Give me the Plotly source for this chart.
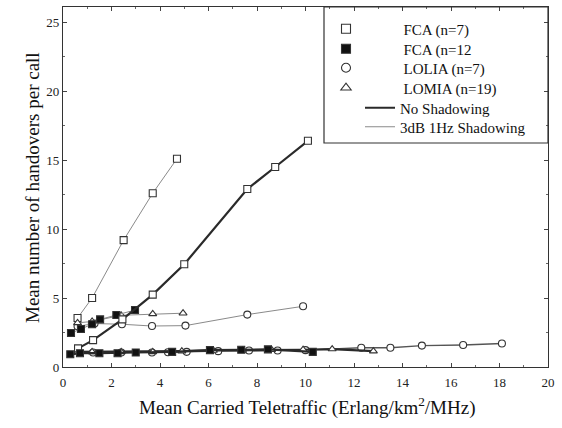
import plotly.graph_objects as go

# ---------------- data ----------------
# FCA (n=7), no shadowing (open squares, thick line)
fca7_ns_x = [0.62, 1.24, 2.45, 3.7, 5.0, 7.6, 8.75, 10.1]
fca7_ns_y = [1.35, 1.95, 3.45, 5.25, 7.45, 12.9, 14.5, 16.4]
# FCA (n=7), 3dB 1Hz shadowing (open squares, thin line)
fca7_sh_x = [0.6, 1.2, 2.5, 3.7, 4.7]
fca7_sh_y = [3.55, 5.0, 9.2, 12.6, 15.1]
# FCA (n=12), no shadowing (filled squares, thick line)
fca12_ns_x = [0.3, 0.7, 1.5, 2.25, 3.0, 4.5, 6.06, 7.35, 8.45, 10.3]
fca12_ns_y = [0.92, 1.0, 1.0, 1.0, 1.05, 1.1, 1.22, 1.25, 1.28, 1.1]
# FCA (n=12), shadowing (filled squares, thin line)
fca12_sh_x = [0.33, 0.74, 1.2, 1.53, 2.2, 2.97]
fca12_sh_y = [2.46, 2.75, 3.1, 3.45, 3.77, 4.13]
# LOLIA (n=7), no shadowing (open circles)
lolia_ns_x = [1.24, 2.4, 3.67, 4.33, 5.1, 6.4, 7.67, 8.85, 10.0, 12.3, 13.5, 14.8, 16.5, 18.1]
lolia_ns_y = [1.05, 1.05, 1.05, 1.07, 1.1, 1.15, 1.2, 1.2, 1.22, 1.4, 1.4, 1.55, 1.6, 1.7]
# LOLIA (n=7), shadowing (open circles)
lolia_sh_x = [0.6, 1.3, 2.43, 3.67, 5.05, 7.6, 9.9]
lolia_sh_y = [2.95, 3.15, 3.1, 2.97, 3.0, 3.8, 4.4]
# LOMIA (n=19), no shadowing (open triangles)
lomia_ns_x = [0.6, 1.2, 2.4, 3.7, 4.9, 6.2, 7.4, 8.6, 9.9, 11.1, 12.8]
lomia_ns_y = [1.1, 1.1, 1.1, 1.1, 1.15, 1.2, 1.2, 1.25, 1.25, 1.3, 1.15]
# LOMIA (n=19), shadowing (open triangles)
lomia_sh_x = [0.6, 1.2, 2.4, 3.7, 4.95]
lomia_sh_y = [3.2, 3.3, 3.75, 3.85, 3.9]

marker_labels = ["FCA (n=7)", "FCA (n=12", "LOLIA (n=7)", "LOMIA (n=19)"]
line_labels = ["No Shadowing", "3dB 1Hz Shadowing"]
x_title = "Mean Carried Teletraffic (Erlang/km<sup>2</sup>/MHz)"
y_title = "Mean number of handovers per call"

# ---------------- style ----------------
FONT = "Liberation Serif, Times New Roman, serif"
THICK = dict(color="#2a2a2a", width=2.2)
THIN = dict(color="#8a8a8a", width=1)
MK = dict(size=7, line=dict(color="#333333", width=1.1))

# plot area in pixels (for placing legend rows / titles)
PL, PR, PT, PB = 63, 548, 7, 367

def px_x(p):
    return (p - PL) / (PR - PL)

def px_y(p):
    return (PB - p) / (PB - PT)

def mk(symbol, fill="white", size=7):
    d = dict(MK)
    d["symbol"] = symbol
    d["color"] = fill
    d["size"] = size
    return d

fig = go.Figure()

series = [
    (fca7_sh_x, fca7_sh_y, THIN, mk("square")),
    (lolia_sh_x, lolia_sh_y, THIN, mk("circle")),
    (lomia_sh_x, lomia_sh_y, THIN, mk("triangle-up")),
    (fca12_sh_x, fca12_sh_y, THIN, mk("square", "#111111")),
    (lolia_ns_x, lolia_ns_y, dict(color="#555555", width=1.4), mk("circle")),
    (lomia_ns_x, lomia_ns_y, THICK, mk("triangle-up")),
    (fca7_ns_x, fca7_ns_y, THICK, mk("square")),
    (fca12_ns_x, fca12_ns_y, THICK, mk("square", "#111111")),
]
for xs, ys, ln, m in series:
    fig.add_trace(go.Scatter(x=xs, y=ys, mode="lines+markers", line=ln,
                             marker=m, showlegend=False, hoverinfo="skip"))

leg_font = dict(family=FONT, size=15, color="#111111")
legend_layout = {}
row_y = [29, 49, 68, 88, 108, 127]
pad = "\u00a0" * 10
legend_markers = [mk("square", size=9), mk("square", "#111111", size=9),
                  mk("circle", size=9), mk("triangle-up", size=9)]
k = 0
for lab, m in zip(marker_labels, legend_markers):
    name = "legend" if k == 0 else "legend%d" % (k + 1)
    fig.add_trace(go.Scatter(x=[None], y=[None], mode="markers", marker=m,
                             name=pad + lab, legend=name))
    legend_layout[name] = dict(x=px_x(326), y=px_y(row_y[k]), xanchor="left", yanchor="middle",
                               bgcolor="rgba(0,0,0,0)", borderwidth=0, font=leg_font)
    k += 1
for lab, ln in zip(line_labels, [THICK, THIN]):
    name = "legend%d" % (k + 1)
    fig.add_trace(go.Scatter(x=[None], y=[None], mode="lines", line=ln,
                             name=lab, legend=name))
    legend_layout[name] = dict(x=px_x(360), y=px_y(row_y[k]), xanchor="left", yanchor="middle",
                               bgcolor="rgba(0,0,0,0)", borderwidth=0, font=leg_font)
    k += 1

axis_common = dict(showline=True, linecolor="#333333", linewidth=1.2, mirror="ticks",
                   ticks="inside", ticklen=4, tickcolor="#444444", showgrid=False,
                   zeroline=False, automargin=False,
                   tickfont=dict(family=FONT, size=13, color="#222222"))

fig.update_xaxes(range=[0, 20], dtick=2, tick0=0, ticklabelstandoff=3,
                 minor=dict(dtick=1, ticks="inside", ticklen=2, tickcolor="#666666"),
                 **axis_common)
fig.update_yaxes(range=[0, 26.1], dtick=5, tick0=0,
                 minor=dict(dtick=2.5, ticks="inside", ticklen=2, tickcolor="#666666"),
                 **axis_common)

title_font = dict(family=FONT, size=19, color="#111111")
fig.add_annotation(text=x_title, xref="paper", yref="paper", x=px_x(307), y=px_y(406),
                   xanchor="center", yanchor="middle", showarrow=False, font=title_font)
fig.add_annotation(text=y_title, xref="paper", yref="paper", x=px_x(32), y=px_y(188),
                   xanchor="center", yanchor="middle", showarrow=False, textangle=-90,
                   font=title_font)

# legend box
fig.add_shape(type="rect", xref="paper", yref="paper", x0=px_x(324), x1=1.0,
              y0=px_y(143), y1=1.0, line=dict(color="#333333", width=1.2),
              fillcolor="rgba(0,0,0,0)")

fig.update_layout(
    width=562, height=428,
    margin=dict(l=PL, r=562 - PR, t=PT, b=428 - PB),
    paper_bgcolor="white", plot_bgcolor="white",
    font=dict(family=FONT),
    **legend_layout,
)

fig.write_html("out.html", config={"displayModeBar": False},
               post_script="document.body.style.margin='0';document.body.style.overflow='hidden';")
